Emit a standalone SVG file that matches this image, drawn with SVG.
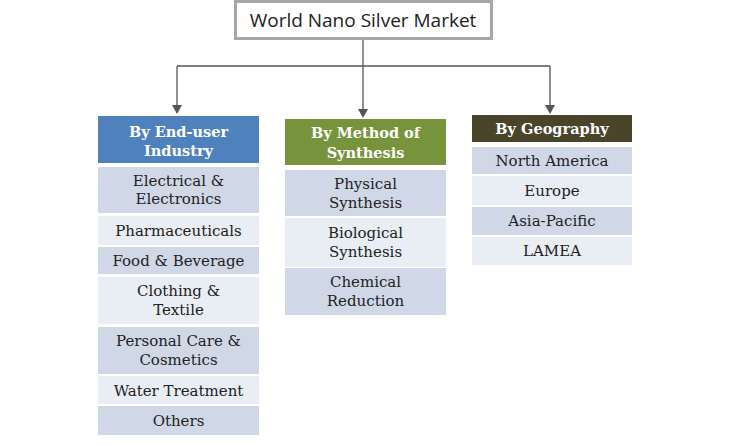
<svg xmlns="http://www.w3.org/2000/svg" width="737" height="446" viewBox="0 0 737 446">
<style>
.ti{font-family:"Open Sans","Liberation Sans",sans-serif;font-size:19px;fill:#222;text-anchor:middle}
.hd{font-family:"DejaVu Serif","Liberation Serif",serif;font-size:14.5px;font-weight:bold;fill:#fff;text-anchor:middle}
.it{font-family:"DejaVu Serif","Liberation Serif",serif;font-size:15px;fill:#222;text-anchor:middle}
.dk{fill:#D0D8E8}
.lt{fill:#E9EDF4}
.cn{stroke:#555;stroke-width:1.3;fill:none}
.ar{fill:#555}
</style>
<rect width="737" height="446" fill="#fff"/>
<g id="connectors">
<path class="cn" d="M363,39 V110"/>
<path class="cn" d="M177,66 H550"/>
<path class="cn" d="M177,66 V106"/>
<path class="cn" d="M550,66 V106"/>
<path class="ar" d="M172,105 L182,105 L177,114 Z"/>
<path class="ar" d="M358,109 L368,109 L363,118 Z"/>
<path class="ar" d="M545,105 L555,105 L550,114 Z"/>
</g>
<g id="title">
<rect x="235.5" y="1.5" width="256" height="37" fill="#fff" stroke="#A6A6A6" stroke-width="3"/>
<text class="ti" x="363" y="27">World Nano Silver Market</text>
</g>
<g id="end-user">
<rect x="98" y="116" width="161" height="47" fill="#4F81BD"/>
<text class="hd" x="178.5" y="137">By End-user</text>
<text class="hd" x="178.5" y="156">Industry</text>
<rect class="dk" x="98" y="167" width="161" height="46"/>
<text class="it" x="178.5" y="186">Electrical &amp;</text>
<text class="it" x="178.5" y="204">Electronics</text>
<rect class="lt" x="98" y="216" width="161" height="29"/>
<text class="it" x="178.5" y="236">Pharmaceuticals</text>
<rect class="dk" x="98" y="247" width="161" height="27"/>
<text class="it" x="178.5" y="266">Food &amp; Beverage</text>
<rect class="lt" x="98" y="277" width="161" height="47"/>
<text class="it" x="178.5" y="296">Clothing &amp;</text>
<text class="it" x="178.5" y="315">Textile</text>
<rect class="dk" x="98" y="327" width="161" height="47"/>
<text class="it" x="178.5" y="346">Personal Care &amp;</text>
<text class="it" x="178.5" y="365">Cosmetics</text>
<rect class="lt" x="98" y="376" width="161" height="28"/>
<text class="it" x="178.5" y="396">Water Treatment</text>
<rect class="dk" x="98" y="406" width="161" height="29"/>
<text class="it" x="178.5" y="426">Others</text>
</g>
<g id="method">
<rect x="285" y="119" width="161" height="46" fill="#77933C"/>
<text class="hd" x="365.5" y="138">By Method of</text>
<text class="hd" x="365.5" y="158">Synthesis</text>
<rect class="dk" x="285" y="170" width="161" height="46"/>
<text class="it" x="365.5" y="189">Physical</text>
<text class="it" x="365.5" y="208">Synthesis</text>
<rect class="lt" x="285" y="218" width="161" height="49"/>
<text class="it" x="365.5" y="238">Biological</text>
<text class="it" x="365.5" y="257">Synthesis</text>
<rect class="dk" x="285" y="268" width="161" height="47"/>
<text class="it" x="365.5" y="287">Chemical</text>
<text class="it" x="365.5" y="306">Reduction</text>
</g>
<g id="geography">
<rect x="472" y="115" width="160" height="27" fill="#4A452A"/>
<text class="hd" x="552" y="134">By Geography</text>
<rect class="dk" x="472" y="147" width="160" height="27"/>
<text class="it" x="552" y="166">North America</text>
<rect class="lt" x="472" y="176" width="160" height="29"/>
<text class="it" x="552" y="196">Europe</text>
<rect class="dk" x="472" y="207" width="160" height="28"/>
<text class="it" x="552" y="226">Asia-Pacific</text>
<rect class="lt" x="472" y="237" width="160" height="28"/>
<text class="it" x="552" y="256">LAMEA</text>
</g>
</svg>
